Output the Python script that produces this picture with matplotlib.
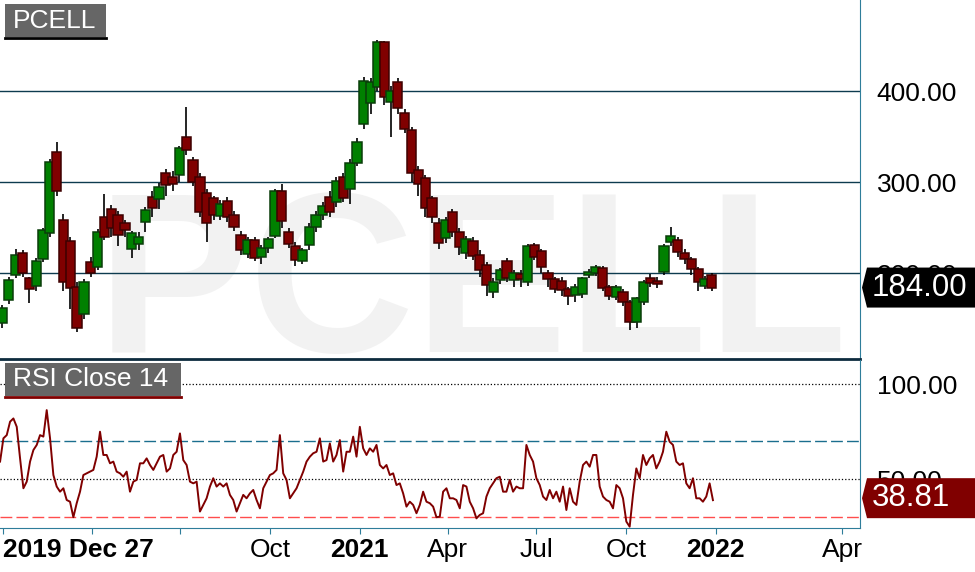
import numpy as np
import pandas as pd
import matplotlib
matplotlib.use("Agg")
import matplotlib.pyplot as plt
from matplotlib.patches import Rectangle, Polygon
from matplotlib.lines import Line2D

plt.rcParams['font.family'] = ['Liberation Sans', 'DejaVu Sans']

W, H = 975, 572

# weekly candles (price)
candle_dates = pd.date_range('2019-12-31', periods=105, freq='7D')
opens = [145, 170, 198, 222, 194, 186, 215, 244, 333, 258, 235, 185, 155, 212, 207,
         262, 270, 264, 255, 226, 232, 256, 284, 281, 310, 305, 308, 350, 324, 305,
         288, 282, 263, 279, 264, 242, 221, 236, 218, 227, 241, 290, 245, 230, 213,
         231, 251, 264, 284, 278, 305, 292, 321, 364, 387, 404, 454, 388, 410, 376,
         357, 313, 304, 282, 255, 238, 267, 245, 222, 235, 220, 209, 179, 192, 213,
         192, 199, 190, 231, 224, 200, 193, 191, 182, 176, 177, 198, 200, 205, 185,
         174, 179, 168, 146, 168, 194, 191, 201, 234, 236, 222, 215, 204, 186, 198]
highs = [165, 196, 226, 225, 196, 216, 250, 325, 344, 265, 240, 190, 193, 218, 248,
         287, 275, 268, 258, 246, 245, 273, 290, 299, 314, 312, 340, 382, 328, 310,
         292, 285, 280, 284, 268, 246, 240, 240, 231, 240, 292, 298, 250, 234, 228,
         255, 268, 278, 290, 305, 310, 325, 348, 415, 414, 456, 455, 405, 414, 380,
         360, 318, 308, 285, 260, 262, 270, 250, 241, 240, 225, 212, 195, 206, 216,
         203, 203, 232, 233, 226, 203, 196, 196, 185, 188, 196, 204, 209, 208, 187,
         187, 182, 170, 174, 192, 199, 196, 232, 251, 240, 226, 218, 207, 197, 200]
lows = [140, 166, 194, 196, 167, 180, 212, 240, 285, 180, 160, 135, 150, 196, 203,
        236, 240, 230, 240, 217, 225, 245, 262, 270, 285, 290, 300, 330, 296, 262,
        234, 258, 258, 256, 246, 220, 216, 213, 210, 222, 238, 250, 228, 208, 210,
        225, 245, 258, 262, 272, 278, 276, 318, 358, 375, 400, 385, 349, 375, 354,
        300, 285, 262, 255, 226, 233, 240, 220, 215, 214, 196, 175, 172, 188, 190,
        185, 185, 186, 214, 200, 185, 178, 175, 165, 168, 172, 195, 197, 180, 170,
        170, 164, 137, 140, 165, 185, 184, 198, 230, 218, 210, 198, 180, 182, 180]
closes = [162, 192, 220, 200, 182, 213, 247, 322, 290, 190, 184, 140, 190, 200, 245,
          240, 249, 242, 247, 244, 240, 269, 271, 294, 297, 298, 337, 335, 300, 267,
          255, 264, 276, 262, 251, 225, 236, 217, 228, 237, 290, 257, 232, 214, 225,
          251, 264, 274, 267, 301, 282, 321, 344, 411, 410, 454, 393, 400, 381, 358,
          310, 298, 271, 262, 233, 258, 245, 229, 237, 219, 203, 187, 190, 203, 194,
          200, 193, 230, 218, 207, 193, 182, 181, 175, 185, 194, 201, 207, 184, 175,
          185, 168, 146, 172, 190, 189, 188, 230, 241, 223, 215, 204, 190, 193, 184]

# RSI(14) sampled along the line
rsi_dates = pd.date_range('2019-12-29', periods=215, freq='82h')
rsi = [59.2, 71.5, 73.2, 80.3, 82.0, 77.6, 60.9, 45.1, 48.6, 59.2, 65.3, 68.0, 73.2, 72.4,
       86.4, 71.5, 52.1, 46.0, 43.3, 45.1, 38.9, 38.0, 29.8, 37.2, 43.3, 52.1, 53.0, 53.9,
       54.8, 61.8, 75.0, 62.7, 62.7, 58.3, 59.2, 53.9, 53.0, 51.2, 53.9, 43.3, 48.6, 49.5,
       58.3, 58.3, 60.9, 57.4, 54.8, 58.3, 61.8, 62.7, 53.9, 55.6, 62.7, 64.4, 74.1, 60.0,
       57.4, 48.6, 47.7, 48.6, 32.8, 36.3, 39.8, 46.0, 50.4, 46.0, 47.7, 46.0, 47.7, 41.6,
       38.9, 32.8, 37.2, 41.6, 39.8, 42.4, 44.2, 38.9, 34.5, 45.1, 48.6, 52.1, 53.0, 54.8,
       73.2, 53.0, 49.5, 39.8, 42.4, 45.1, 49.5, 53.9, 59.2, 61.8, 63.6, 64.4, 71.5, 59.2,
       60.0, 68.8, 59.2, 62.7, 70.6, 53.9, 64.4, 64.4, 72.4, 61.8, 77.6, 66.2, 62.7, 66.2,
       64.4, 68.0, 57.4, 55.6, 57.4, 52.1, 53.0, 46.8, 47.7, 42.4, 35.4, 38.0, 36.3, 31.9,
       36.3, 43.3, 38.0, 37.2, 35.4, 29.8, 30.1, 43.3, 45.1, 39.8, 39.8, 38.9, 34.5, 46.8,
       46.0, 38.0, 34.5, 29.2, 31.0, 31.9, 40.7, 45.1,
       47.7, 50.4, 51.2, 43.3, 43.3, 49.5, 43.3, 46.0, 45.1, 45.1, 68.0, 62.7, 59.2, 50.4,
       46.8, 40.7, 38.9, 44.2, 39.8, 43.3, 38.0, 46.0, 33.6, 45.1, 38.0, 36.3, 48.6, 57.4,
       59.2, 56.5, 62.7, 62.7, 46.0, 40.7, 38.9, 38.0, 34.5, 46.8, 45.1, 39.8, 27.5, 24.8,
       41.6, 55.6, 50.4, 62.7, 57.4, 60.9, 62.7, 55.6, 59.2, 64.4, 75.0, 69.7, 68.0, 59.2,
       57.4, 58.3, 47.7, 45.1, 50.4, 39.8, 39.8, 38.0, 40.7, 47.7, 38.81]

last_price = 184.00
last_rsi = 38.81
price_ticks = [200, 300, 400]
rsi_ticks = [50, 100]
# the chart squeezes the empty future area, so the last "Apr" sits further right
tick_dates = pd.to_datetime(['2020-01-01', '2020-04-01', '2020-07-01', '2020-10-01',
                             '2021-01-01', '2021-04-01', '2021-07-01', '2021-10-01',
                             '2022-01-01', '2022-05-11'])
tick_labels = ['2019 Dec 27', '', '', 'Oct', '2021', 'Apr', 'Jul', 'Oct', '2022', 'Apr']
bold_labels = ['2019 Dec 27', '2021', '2022']

t0 = pd.Timestamp('2020-01-01')
cd = ((candle_dates - t0) / pd.Timedelta(days=1)).values
rd = ((rsi_dates - t0) / pd.Timedelta(days=1)).values
td = ((tick_dates - t0) / pd.Timedelta(days=1)).values

fig = plt.figure(figsize=(9.75, 5.72), dpi=100)
ax = fig.add_axes([0, 1 - 359 / H, 860 / W, 359 / H])
ax2 = fig.add_axes([0, 1 - 528 / H, 860 / W, 168 / H])
for a in (ax, ax2):
    a.set_facecolor('none')
    a.set_xlim(-3.08, 879)
    a.spines['top'].set_visible(False)
    a.spines['left'].set_visible(False)
    a.spines['right'].set_color('#2e7d9a')
    a.yaxis.tick_right()

# watermark
fig.text(97 / W, 1 - 352 / H, 'PCELL', fontsize=165, fontweight='bold', color='#f2f2f2',
         ha='left', va='baseline', zorder=-1)

# candles
for i in range(len(opens)):
    o, h, l, c = opens[i], highs[i], lows[i], closes[i]
    up = c >= o
    ax.vlines(cd[i], l, h, color='black', lw=1.2, zorder=2 + 2 * i)
    ax.bar(cd[i], abs(c - o), bottom=min(o, c), width=9.5,
           color='#008000' if up else '#800000',
           edgecolor='#0a3d0a' if up else '#3d0000', lw=1.1, zorder=3 + 2 * i)

ax.set_ylim(105.5, 500)
ax.set_yticks(price_ticks)
ax.set_yticklabels(['%.2f' % v for v in price_ticks])
ax.grid(axis='y', color='#0d3b4f', lw=1)
ax.set_axisbelow(True)
ax.set_xticks([])
ax.tick_params(axis='y', length=0, pad=12, labelsize=19)
ax.spines['bottom'].set_color('#0d2b3e')
ax.spines['bottom'].set_linewidth(2)

# RSI panel
ax2.plot(rd, rsi, color='#800000', lw=1.4, zorder=5)
ax2.axhline(70, color='#1a6e8e', lw=1, dashes=(8.5, 3))
ax2.axhline(30, color='#ff4d4d', lw=1, dashes=(8.5, 3))
ax2.set_ylim(24.1, 112.9)
ax2.set_yticks(rsi_ticks)
ax2.set_yticklabels(['%.2f' % v for v in rsi_ticks])
ax2.grid(axis='y', color='black', linestyle=':', lw=0.9)
ax2.tick_params(axis='y', length=0, pad=12, labelsize=19)
ax2.spines['bottom'].set_color('#2e7d9a')
ax2.set_xticks(td)
ax2.set_xticklabels(tick_labels)
ax2.tick_params(axis='x', direction='out', length=4, color='#2e7d9a', labelsize=19, pad=3)
for lab in ax2.get_xticklabels():
    if lab.get_text() in bold_labels:
        lab.set_fontweight('bold')
ax2.get_xticklabels()[0].set_horizontalalignment('left')


def fx(x):
    return x / W


def fy(y):
    return 1 - y / H


def tag(x0, y0, x1, y1, text, line_color):
    fig.add_artist(Rectangle((fx(x0), fy(y1)), fx(x1) - fx(x0), fy(y0) - fy(y1),
                             transform=fig.transFigure, facecolor='#666666',
                             edgecolor='none'))
    fig.add_artist(Line2D([fx(x0), fx(x1)], [fy(y1 + 1), fy(y1 + 1)],
                          transform=fig.transFigure, color=line_color, lw=2))
    fig.text(fx(13), fy((y0 + y1) / 2), text, color='white', fontsize=19,
             ha='left', va='center')


tag(5, 4, 106, 37, 'PCELL', 'black')
tag(5, 363, 181, 396, 'RSI Close 14', '#800000')


def price_box(yc, text, color):
    pts = [(fx(867), fy(yc - 20)), (fx(975), fy(yc - 20)), (fx(975), fy(yc + 20)),
           (fx(867), fy(yc + 20)), (fx(862), fy(yc))]
    fig.add_artist(Polygon(pts, closed=True, transform=fig.transFigure,
                           facecolor=color, edgecolor='none'))
    fig.text(fx(872), fy(yc), text, color='white', fontsize=22.5, ha='left', va='center')


def to_px(a, v):
    return H - a.transData.transform((0, v))[1]


price_box(to_px(ax, last_price), '%.2f' % last_price, 'black')
price_box(to_px(ax2, last_rsi) - 2, '%.2f' % last_rsi, '#800000')

fig.savefig('out.png', dpi=100)
